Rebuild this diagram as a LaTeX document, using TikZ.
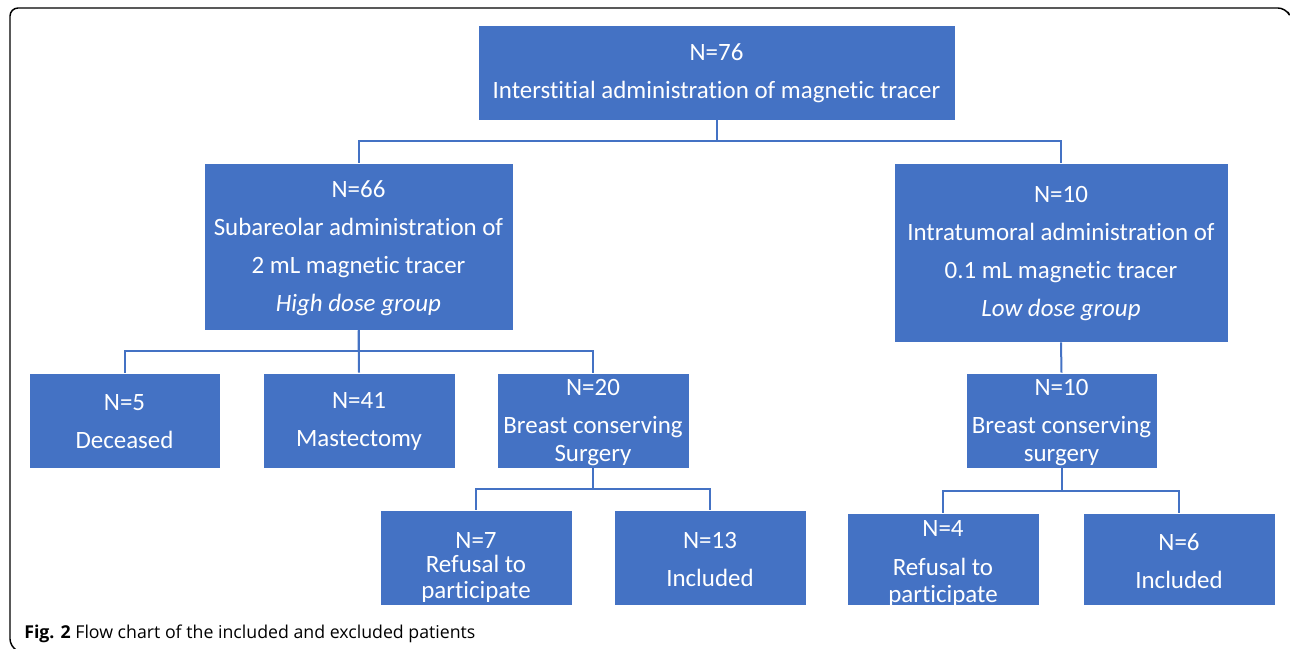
\documentclass[tikz,border=0pt]{standalone}
\usepackage{fontspec}
\setmainfont{Carlito}[Ligatures=NoCommon]
\newfontfamily\capfont{Open Sans}
\definecolor{boxblue}{HTML}{4472C4}
\begin{document}
\begin{tikzpicture}[x=0.75pt,y=-0.75pt,
  box/.style={draw=white, line width=0.6pt, fill=boxblue, inner sep=0pt},
  txt/.style={text=white, align=center, font=\fontsize{18.7}{28.5}\selectfont, inner sep=0pt},
  link/.style={draw=boxblue, line width=1.5pt},
  frame/.style={draw=black, line width=1.1pt, rounded corners=6pt}]
\useasboundingbox (0,0) rectangle (1290,649);
\draw[frame] (1288,12) -- (1286,8) -- (10,8) -- (10,647) -- (14,649);
% boxes
\node[box, minimum width=477*0.75pt, minimum height=95*0.75pt] (top) at (716.5,72.5) {};
\node[box, minimum width=309*0.75pt, minimum height=167*0.75pt] (hd) at (358.5,246.5) {};
\node[box, minimum width=334*0.75pt, minimum height=179*0.75pt] (ld) at (1061,252.5) {};
\node[box, minimum width=191*0.75pt, minimum height=95*0.75pt] (dec) at (124.5,420.5) {};
\node[box, minimum width=192*0.75pt, minimum height=95*0.75pt] (mas) at (359,420.5) {};
\node[box, minimum width=192*0.75pt, minimum height=95*0.75pt] (bcs) at (593,420.5) {};
\node[box, minimum width=191*0.75pt, minimum height=95*0.75pt] (bcsl) at (1061.5,420.5) {};
\node[box, minimum width=192*0.75pt, minimum height=95*0.75pt] (ref) at (476,557.5) {};
\node[box, minimum width=192*0.75pt, minimum height=95*0.75pt] (inc) at (710,557.5) {};
\node[box, minimum width=192*0.75pt, minimum height=92*0.75pt] (refl) at (943,559) {};
\node[box, minimum width=192*0.75pt, minimum height=92*0.75pt] (incl) at (1179,559) {};
% texts
\node[txt] (ttop) at (716.5,73.5) {N=76\\Interstitial administration of magnetic tracer};
\node[txt] (thd) at (358.5,248) {N=66\\Subareolar administration of\\2 mL magnetic tracer\\\textit{High dose group}};
\node[txt] (tld) at (1061,254) {N=10\\Intratumoral administration of\\0.1 mL magnetic tracer\\\textit{Low dose group}};
\node[txt] (tdec) at (124.5,421.5) {N=5\\Deceased};
\node[txt] (tmas) at (359,421.5) {N=41\\Mastectomy};
\node[txt] (tbcs) at (593,422.5) {N=20\\Breast conserving\\[-8pt]Surgery};
\node[txt] (tbcsl) at (1061.5,422.5) {N=10\\Breast conserving\\[-8pt]surgery};
\node[txt] (tref) at (476,568) {N=7\\[-10.5pt]Refusal to\\[-9pt]participate};
\node[txt] (tinc) at (710,559.5) {N=13\\Included};
\node[txt] (trefl) at (943,563.5) {N=4\\[1pt]Refusal to\\[-8pt]participate};
\node[txt] (tincl) at (1179,561.5) {N=6\\Included};
% connectors
\draw[link] (top.south) -- ++(0,21) -| (hd.north);
\draw[link] (top.south) ++(0,21) -| (ld.north);
\draw[link] (hd.south) -- ++(0,21) -| (dec.north);
\draw[link] (hd.south) -- (mas.north);
\draw[link] (hd.south) ++(0,21) -| (bcs.north);
\draw[link] (ld.south) -- (bcsl.north);
\draw[link] (bcs.south) -- ++(0,21) -| (ref.north);
\draw[link] (bcs.south) ++(0,21) -| (inc.north);
\draw[link] (bcsl.south) -- ++(0,23) -| (refl.north);
\draw[link] (bcsl.south) ++(0,23) -| (incl.north);
% caption
\node[anchor=base west, inner sep=0pt, font=\capfont\fontsize{13.3}{16}\selectfont] (cap) at (24,638) {\textbf{Fig. 2} Flow chart of the included and excluded patients};
\end{tikzpicture}
\end{document}
